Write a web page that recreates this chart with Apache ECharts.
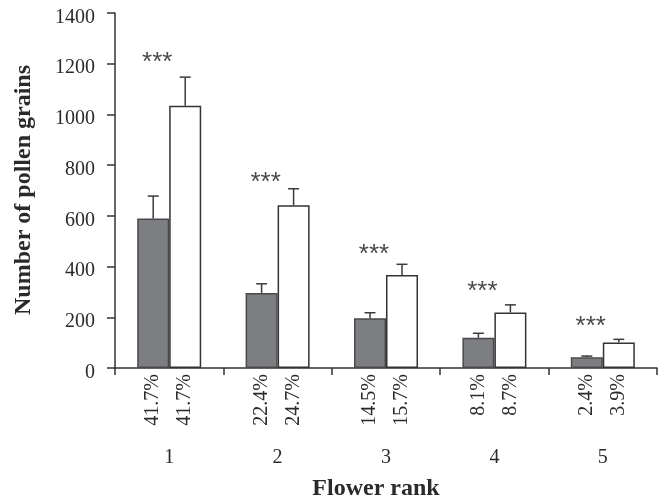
<!DOCTYPE html>
<html>
<head>
<meta charset="utf-8">
<script src="https://cdn.jsdelivr.net/npm/echarts@6/dist/echarts.min.js"></script>
<style>
  html, body { margin: 0; padding: 0; background: #fff; }
  #chart { width: 665px; height: 501px; }
</style>
</head>
<body>
<div id="chart"></div>
<script>
// Flower rank categories
const ranks = ['1', '2', '3', '4', '5'];

// Mean pollen grain counts and upper error limits (dark bars)
const greyMeans = [590, 296, 196, 119, 42];
const greyUpper = [678, 332, 218, 137, 47];

// Mean pollen grain counts and upper error limits (open bars)
const whiteMeans = [1034, 642, 367, 219, 101];
const whiteUpper = [1147, 707, 409, 249, 113];

// Share of total pollen per rank
const greyPct = ['41.7%', '22.4%', '14.5%', '8.1%', '2.4%'];
const whitePct = ['41.7%', '24.7%', '15.7%', '8.7%', '3.9%'];

// Height at which the significance marks sit
const starLevels = [1229, 754, 470, 324, 186];
const starText = '***';

// Y axis range
const yMin = 0, yMax = 1400, yStep = 200;

const SERIF = "'Liberation Serif', 'Times New Roman', serif";
const INK = '#2a2a2a';
const BAR_W = 32;

function errorBars(side) {
  return function (params, api) {
    const i = api.value(0);
    const base = api.coord([i, api.value(1)]);
    const top = api.coord([i, api.value(2)]);
    const x = base[0] + side * BAR_W / 2;
    const cap = 5.5;
    const style = { stroke: '#3a3a3a', lineWidth: 1.5 };
    return {
      type: 'group',
      children: [
        { type: 'line', shape: { x1: x, y1: base[1], x2: x, y2: top[1] }, style },
        { type: 'line', shape: { x1: x - cap, y1: top[1], x2: x + cap, y2: top[1] }, style }
      ]
    };
  };
}

const chart = echarts.init(document.getElementById('chart'), null, { renderer: 'canvas' });

chart.setOption({
  animation: false,
  backgroundColor: '#ffffff',
  grid: { left: 115, right: 8, top: 13, bottom: 133, containLabel: false },
  xAxis: {
    type: 'category',
    data: ranks,
    axisLine: { lineStyle: { color: '#333', width: 1.5 } },
    axisTick: { show: true, length: 7, lineStyle: { color: '#333', width: 1.5 } },
    axisLabel: { interval: 0, margin: 80, fontFamily: SERIF, fontSize: 20, color: INK }
  },
  yAxis: {
    type: 'value',
    min: yMin, max: yMax, interval: yStep,
    splitLine: { show: false },
    axisLine: { show: true, lineStyle: { color: '#333', width: 1.5 } },
    axisTick: { show: true, length: 8, lineStyle: { color: '#333', width: 1.5 } },
    axisLabel: {
      margin: 20, fontFamily: SERIF, fontSize: 20, color: INK,
      verticalAlign: 'top', lineHeight: 9,
      formatter: v => String(v)
    }
  },
  graphic: [
    {
      type: 'text', x: 376, y: 489,
      style: { text: 'Flower rank', align: 'center', verticalAlign: 'middle',
               font: "bold 24px 'Liberation Serif', 'Times New Roman', serif", fill: INK }
    },
    {
      type: 'text', x: 24, y: 190, rotation: Math.PI / 2,
      style: { text: 'Number of pollen grains', align: 'center', verticalAlign: 'middle',
               font: "bold 24px 'Liberation Serif', 'Times New Roman', serif", fill: INK }
    }
  ],
  series: [
    {
      type: 'bar',
      data: greyMeans,
      barWidth: BAR_W,
      barGap: '0%',
      itemStyle: { color: '#7d7e82', borderColor: '#4a4a4a', borderWidth: 1.5 },
      label: {
        show: true, position: 'bottom', distance: 6, rotate: 90,
        align: 'right', verticalAlign: 'middle',
        fontFamily: SERIF, fontSize: 20, color: INK,
        formatter: p => greyPct[p.dataIndex]
      }
    },
    {
      type: 'bar',
      data: whiteMeans,
      barWidth: BAR_W,
      barGap: '0%',
      itemStyle: { color: '#ffffff', borderColor: '#333', borderWidth: 1.5 },
      label: {
        show: true, position: 'bottom', distance: 6, rotate: 90,
        align: 'right', verticalAlign: 'middle',
        fontFamily: SERIF, fontSize: 20, color: INK,
        formatter: p => whitePct[p.dataIndex]
      }
    },
    {
      type: 'custom',
      renderItem: errorBars(-1),
      data: ranks.map((r, i) => [i, greyMeans[i], greyUpper[i]]),
      z: 5
    },
    {
      type: 'custom',
      renderItem: errorBars(1),
      data: ranks.map((r, i) => [i, whiteMeans[i], whiteUpper[i]]),
      z: 5
    },
    {
      type: 'custom',
      renderItem: function (params, api) {
        const p = api.coord([api.value(0), api.value(1)]);
        return {
          type: 'text',
          style: { text: starText, x: p[0] - 12, y: p[1] + 6, align: 'center', verticalAlign: 'middle',
                   font: "26px 'Liberation Sans', Arial, sans-serif", fill: '#4a4a4a' }
        };
      },
      data: ranks.map((r, i) => [i, starLevels[i]]),
      z: 6
    }
  ]
});
</script>
</body>
</html>
